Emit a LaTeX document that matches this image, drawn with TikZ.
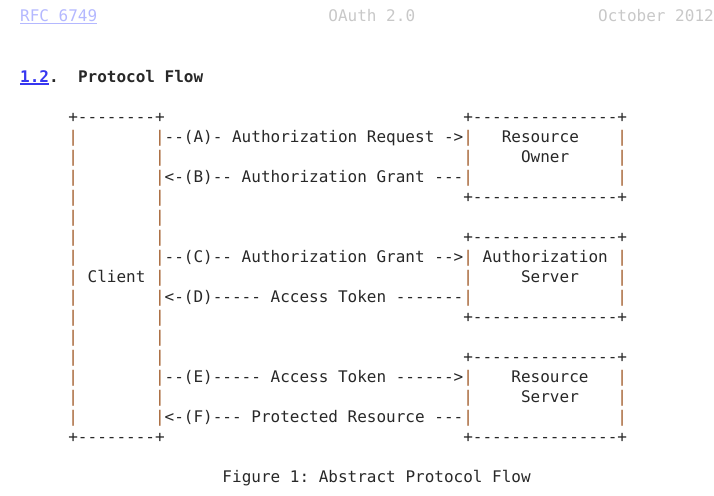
\documentclass[tikz,border=0pt]{standalone}
\usepackage{fontspec}
\setmonofont{DejaVu Sans Mono}
\definecolor{ink}{RGB}{40, 40, 40}
\definecolor{rust}{RGB}{160, 90, 40}
\definecolor{linkblue}{RGB}{55, 55, 240}
\definecolor{paleblue}{RGB}{180, 184, 255}
\definecolor{palegray}{RGB}{200, 200, 200}
\newdimen\charw \charw=9.6328pt
\newcommand\gap[1]{\hspace*{#1\charw}}
\newcommand\vl{\textcolor{rust}{|}}
\tikzset{ascii/.style={anchor=base west, inner sep=0pt, text=ink,
  font=\ttfamily\fontsize{16}{20}\selectfont}}

\begin{document}
\begin{tikzpicture}[x=1pt, y=-1pt]
        \useasboundingbox (0,0) rectangle (714,495);
        % page header
        \node[ascii, text=paleblue] (rfc)   at ( 20.00, 21.5) {RFC 6749};
        \node[ascii, text=palegray] (wg)    at (328.25, 21.5) {OAuth 2.0};
        \node[ascii, text=palegray] (date)  at (597.97, 21.5) {October 2012};
        \draw[paleblue, line width=1pt] ([yshift=-2pt]rfc.base west) -- ([yshift=-2pt]rfc.base east);
        % section title
        \node[ascii, font=\ttfamily\bfseries\fontsize{16}{20}\selectfont] (sec)   at ( 20.00, 82) {\textcolor{linkblue}{1.2}.};
        \node[ascii, font=\ttfamily\bfseries\fontsize{16}{20}\selectfont] (title) at ( 77.80, 82) {Protocol Flow};
        \draw[linkblue, line width=1.2pt] ([yshift=-2pt]sec.base west) -- ++(28.9,0);
        % figure, one node per line
        \node[ascii] (row0)  at (68.16, 122) {+--------+\gap{31}+---------------+};
        \node[ascii] (row1)  at (68.16, 142) {\vl\gap{8}\vl--(A)- Authorization Request ->\vl\gap{3}Resource\gap{4}\vl};
        \node[ascii] (row2)  at (68.16, 162) {\vl\gap{8}\vl\gap{31}\vl\gap{5}Owner\gap{5}\vl};
        \node[ascii] (row3)  at (68.16, 182) {\vl\gap{8}\vl<-(B)-- Authorization Grant ---\vl\gap{15}\vl};
        \node[ascii] (row4)  at (68.16, 202) {\vl\gap{8}\vl\gap{31}+---------------+};
        \node[ascii] (row5)  at (68.16, 222) {\vl\gap{8}\vl};
        \node[ascii] (row6)  at (68.16, 242) {\vl\gap{8}\vl\gap{31}+---------------+};
        \node[ascii] (row7)  at (68.16, 262) {\vl\gap{8}\vl--(C)-- Authorization Grant -->\vl\gap{1}Authorization\gap{1}\vl};
        \node[ascii] (row8)  at (68.16, 282) {\vl\gap{1}Client\gap{1}\vl\gap{31}\vl\gap{5}Server\gap{4}\vl};
        \node[ascii] (row9)  at (68.16, 302) {\vl\gap{8}\vl<-(D)----- Access Token -------\vl\gap{15}\vl};
        \node[ascii] (row10) at (68.16, 322) {\vl\gap{8}\vl\gap{31}+---------------+};
        \node[ascii] (row11) at (68.16, 342) {\vl\gap{8}\vl};
        \node[ascii] (row12) at (68.16, 362) {\vl\gap{8}\vl\gap{31}+---------------+};
        \node[ascii] (row13) at (68.16, 382) {\vl\gap{8}\vl--(E)----- Access Token ------>\vl\gap{4}Resource\gap{3}\vl};
        \node[ascii] (row14) at (68.16, 402) {\vl\gap{8}\vl\gap{31}\vl\gap{5}Server\gap{4}\vl};
        \node[ascii] (row15) at (68.16, 422) {\vl\gap{8}\vl<-(F)--- Protected Resource ---\vl\gap{15}\vl};
        \node[ascii] (row16) at (68.16, 442) {+--------+\gap{31}+---------------+};
        \node[ascii] (caption) at (222.29, 482) {Figure 1: Abstract Protocol Flow};
\end{tikzpicture}
\end{document}
